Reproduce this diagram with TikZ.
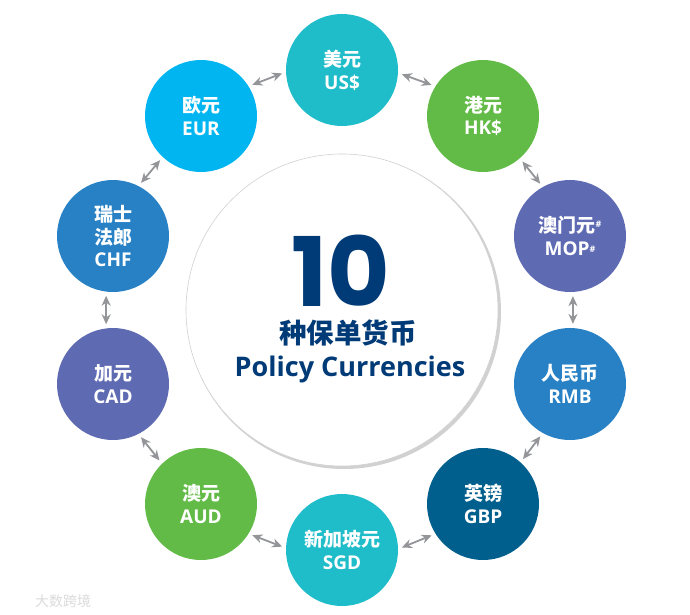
\documentclass[tikz,border=0pt]{standalone}
\usepackage{fontspec}
\setmainfont{Noto Sans CJK SC}
\newfontfamily\latinfont{Open Sans}
\newfontfamily\bigfont{Poppins}
\usetikzlibrary{arrows.meta, positioning}
\definecolor{tealc}{HTML}{1FBCC9}
\definecolor{greenc}{HTML}{62BB46}
\definecolor{indigoc}{HTML}{5E6AB2}
\definecolor{bluec}{HTML}{2781C4}
\definecolor{deepc}{HTML}{005F8C}
\definecolor{skyc}{HTML}{00B5F0}
\definecolor{navyc}{HTML}{003B77}
\definecolor{arrowc}{HTML}{939598}
\tikzset{
  money/.style={circle, inner sep=0pt, minimum size=112pt, text=white, align=center, font=\fontsize{19}{22.8}\selectfont\bfseries},
  link/.style={{Stealth[length=10pt,width=9pt]}-{Stealth[length=10pt,width=9pt]}, draw=arrowc, line width=1.8pt, shorten >=4pt, shorten <=4pt}
}
\newcommand{\lat}[1]{{\latinfont #1}}
\begin{document}
\begin{tikzpicture}[x=1pt, y=-1pt]
    \useasboundingbox (0,0) rectangle (690,615);
    \fill[white] (0,0) rectangle (690,615);
    % middle disc
    \node[circle, fill=black!18, inner sep=0pt, minimum size=314pt] (shade) at (344,312) {};
    \node[circle, fill=white, draw=black!18, line width=0.6pt, inner sep=0pt, minimum size=312pt] (disc) at (342,310) {};
    \node[text=navyc, inner sep=0pt, font=\fontsize{96}{96}\selectfont\bigfont\bfseries] (ten) at (341,271) {10};
    \node[text=navyc, inner sep=0pt, font=\fontsize{27.5}{30}\selectfont\bfseries] (kinds) at (348,333) {种保单货币};
    \node[text=navyc, inner sep=0pt, font=\fontsize{27}{30}\selectfont\latinfont\bfseries] (policy) at (350,369) {Policy Currencies};
    % currencies
    \node[money, fill=tealc] (usd) at (342,70) {美元\\\lat{US\$}};
    \node[money, fill=greenc] (hkd) at (483,116) {港元\\\lat{HK\$}};
    \node[money, fill=indigoc] (mop) at (570,236) {澳门元\raisebox{5pt}{\lat{\fontsize{9}{9}\selectfont\#}}\\\lat{MOP\raisebox{3pt}{\fontsize{9}{9}\selectfont\#}}};
    \node[money, fill=bluec] (rmb) at (570,384) {人民币\\\lat{RMB}};
    \node[money, fill=deepc] (gbp) at (483,504) {英镑\\\lat{GBP}};
    \node[money, fill=tealc] (sgd) at (342,550) {新加坡元\\\lat{SGD}};
    \node[money, fill=greenc] (aud) at (201,504) {澳元\\\lat{AUD}};
    \node[money, fill=indigoc] (cad) at (113,384) {加元\\\lat{CAD}};
    \node[money, fill=bluec] (chf) at (113,236) {瑞士\\法郎\\\lat{CHF}};
    \node[money, fill=skyc] (eur) at (201,116) {欧元\\\lat{EUR}};
    % arrows
    \draw[link] (usd.-3) -- (hkd.148);
    \draw[link] (hkd.-49) -- (mop.119);
    \draw[link] (mop.-87) -- (rmb.87);
    \draw[link] (rmb.-119) -- (gbp.48);
    \draw[link] (gbp.-148) -- (sgd.1);
    \draw[link] (sgd.178) -- (aud.-32);
    \draw[link] (aud.134) -- (cad.-63);
    \draw[link] (cad.97) -- (chf.-97);
    \draw[link] (chf.63) -- (eur.-133);
    \draw[link] (eur.32) -- (usd.-178);
    % faint mark in the corner
    \node[text=black!14, font=\fontsize{14}{14}\selectfont] (mark) at (63,601) {大数跨境};
  \end{tikzpicture}
\end{document}
